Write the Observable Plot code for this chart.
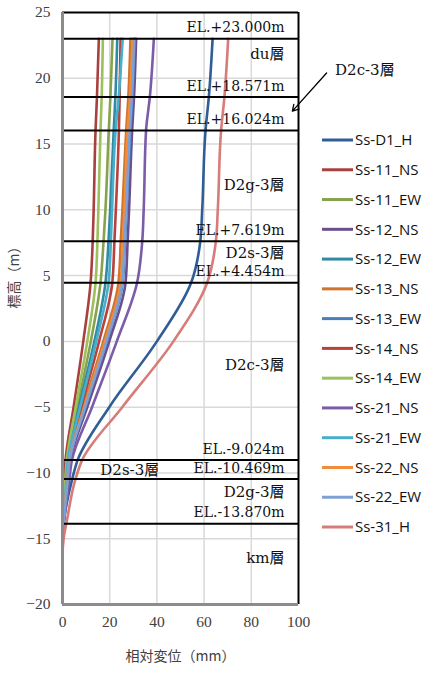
<!DOCTYPE html>
<html><head><meta charset="utf-8">
<script src="https://cdn.jsdelivr.net/npm/d3@7"></script>
<script src="https://cdn.jsdelivr.net/npm/@observablehq/plot@0.6"></script>
<style>
body{margin:0;background:#fff;}
#chart{width:425px;height:673px;position:relative;}
#chart svg{display:block;background:#fff;}
</style>
</head><body><div id="chart"></div>
<script>
// Elevations (m) at which displacements are read
const elevations = [23, 18.571, 16.024, 10, 7.619, 4.454, 0, -5, -9.024, -10.469, -13.870, -14.6, -16];

// Relative displacement (mm) per series at each elevation
const ssD1H  = [63.6, 62.0, 60.6, 59.2, 58.4, 54.5, 40.0, 19.8, 6.4, 4.1, 0.4, 0, null];
const ss11NS = [15.4, 14.6, 14.0, 13.2, 12.8, 11.9, 8.8, 4.7, 1.3, 0.9, 0.2, 0, null];
const ss11EW = [21.2, 20.3, 19.6, 18.2, 17.4, 16.1, 12.0, 6.3, 2.0, 1.4, 0.3, 0, null];
const ss12NS = [31.2, 30.3, 29.5, 28.2, 27.6, 26.7, 19.8, 10.5, 3.3, 2.4, 0.4, 0, null];
const ss12EW = [23.2, 22.4, 21.7, 20.2, 19.5, 18.2, 13.5, 7.0, 2.2, 1.6, 0.3, 0, null];
const ss13NS = [28.8, 27.9, 27.0, 25.4, 24.7, 23.7, 17.3, 8.8, 2.7, 2.0, 0.3, 0, null];
const ss13EW = [30.6, 29.6, 28.8, 27.2, 26.5, 25.5, 18.8, 9.7, 3.0, 2.2, 0.4, 0, null];
const ss14NS = [24.6, 24.2, 23.9, 22.6, 22.0, 21.1, 15.5, 8.0, 2.5, 1.8, 0.3, 0, null];
const ss14EW = [17.1, 16.6, 16.1, 15.2, 14.8, 14.0, 10.5, 5.6, 1.8, 1.2, 0.2, 0, null];
const ss21NS = [38.7, 37.0, 35.4, 34.4, 33.8, 31.6, 23.0, 12.5, 4.0, 2.9, 0.5, 0, null];
const ss21EW = [25.5, 23.8, 22.5, 21.0, 20.5, 19.5, 14.3, 7.5, 2.3, 1.7, 0.3, 0, null];
const ss22NS = [29.7, 28.6, 27.6, 26.2, 25.6, 24.6, 18.0, 9.2, 2.9, 2.1, 0.3, 0, null];
const ss22EW = [30.4, 29.4, 28.5, 27.0, 26.3, 25.3, 18.6, 9.6, 3.0, 2.2, 0.4, 0, null];
const ss31H  = [70.2, 68.6, 67.2, 65.8, 65.0, 61.3, 47.0, 25.3, 8.3, 5.5, 1.6, 0.8, 0];

const seriesNames = ["Ss-D1_H","Ss-11_NS","Ss-11_EW","Ss-12_NS","Ss-12_EW","Ss-13_NS","Ss-13_EW",
  "Ss-14_NS","Ss-14_EW","Ss-21_NS","Ss-21_EW","Ss-22_NS","Ss-22_EW","Ss-31_H"];
const seriesValues = [ssD1H, ss11NS, ss11EW, ss12NS, ss12EW, ss13NS, ss13EW, ss14NS, ss14EW, ss21NS, ss21EW, ss22NS, ss22EW, ss31H];
const seriesColors = ["#2F5D96","#A8403F","#86A24E","#6A4F8F","#2F8AA2","#D0732E","#4A7DBA",
  "#B8403D","#9CC05B","#7B5CA8","#47AFCB","#F38B38","#7FA0D2","#D67C79"];

// Layer boundaries
const boundaries = [23, 18.571, 16.024, 7.619, 4.454, -9.024, -10.469, -13.870];
const boundaryLabels = ["EL.+23.000m","EL.+18.571m","EL.+16.024m","EL.+7.619m","EL.+4.454m","EL.-9.024m","EL.-10.469m","EL.-13.870m"];

// Layer names (right side) and their label elevations
const layerNames = ["du層","D2g-3層","D2s-3層","D2c-3層","D2g-3層","km層"];
const layerElev  = [21.8, 11.9, 6.7, -1.8, -11.5, -16.5];
// Layer name placed inside the thin D2s-3 layer (left of its EL label)
const thinLayerName = ["D2s-3層"];
const thinLayerPos = [{x: 28.5, y: -9.8}];
// Callout for the thin D2c-3 layer between 18.571 and 16.024
const callout = [{x1: 111.9, y1: 20.4, x2: 97.4, y2: 17.5, label: "D2c-3層", tx: 115.5, ty: 20.6}];

const xTicks = [0, 20, 40, 60, 80, 100];
const yTicks = [25, 20, 15, 10, 5, 0, -5, -10, -15, -20];

const rows = [];
seriesNames.forEach((s, i) => {
  seriesValues[i].forEach((v, j) => {
    if (v !== null) rows.push({series: s, elev: elevations[j], disp: v});
  });
});

const tickFont = "'Liberation Serif','Noto Sans CJK JP',serif";
const labelFont = "'DejaVu Serif','Noto Sans CJK JP',serif";

const plot = Plot.plot({
  width: 425,
  height: 673,
  marginLeft: 62,
  marginRight: 127,
  marginTop: 12,
  marginBottom: 69,
  style: {fontFamily: tickFont, fontSize: "15px", color: "#404040", background: "#fff"},
  x: {domain: [0, 100], label: null},
  y: {domain: [-20, 25], label: null},
  color: {domain: seriesNames, range: seriesColors},
  marks: [
    Plot.gridX(xTicks.filter(d => d > 0 && d < 100), {stroke: "#d9d9d9", strokeOpacity: 1, strokeWidth: 1.5}),
    Plot.gridY(yTicks.filter(d => d > -20 && d < 25), {stroke: "#d9d9d9", strokeOpacity: 1, strokeWidth: 1.5}),
    Plot.axisX({ticks: xTicks, tickSize: 0, tickPadding: 11, fontSize: 15.5, tickFormat: d => String(d)}),
    Plot.axisY({ticks: yTicks, tickSize: 0, tickPadding: 12, fontSize: 15.5}),
    Plot.line(rows, {x: "disp", y: "elev", z: "series", stroke: "series", strokeWidth: 2.6, curve: "monotone-y"}),
    Plot.ruleY(boundaries, {stroke: "#000", strokeWidth: 2}),
    Plot.ruleY([25], {stroke: "#000", strokeWidth: 2}),
    Plot.ruleX([100], {stroke: "#000", strokeWidth: 2}),
    Plot.ruleX([0], {stroke: "#8c8c8c", strokeWidth: 3}),
    Plot.ruleY([-20], {stroke: "#8c8c8c", strokeWidth: 3}),
    Plot.text(boundaries, {y: d => d, text: (d, i) => boundaryLabels[i], frameAnchor: "right", dx: -14, dy: -11,
      textAnchor: "end", fill: "#111", fontSize: 14, fontFamily: labelFont}),
    Plot.text(layerNames, {y: (d, i) => layerElev[i], text: d => d, frameAnchor: "right", dx: -14,
      textAnchor: "end", fill: "#111", fontSize: 15, fontFamily: labelFont}),
    Plot.text(thinLayerName, {x: (d, i) => thinLayerPos[i].x, y: (d, i) => thinLayerPos[i].y, text: d => d,
      fill: "#111", fontSize: 15, fontFamily: labelFont}),
    Plot.arrow(callout, {x1: "x1", y1: "y1", x2: "x2", y2: "y2", stroke: "#000", strokeWidth: 1.3, headLength: 8}),
    Plot.text(callout, {x: "tx", y: "ty", text: "label", textAnchor: "start", fill: "#111", fontSize: 15, fontFamily: labelFont}),
    Plot.text(["標高（m）"], {frameAnchor: "left", dx: -48, rotate: -90, fontSize: 14,
      fontFamily: "'Noto Sans CJK JP',sans-serif", fill: "#404040"}),
    Plot.text(["相対変位（mm）"], {frameAnchor: "bottom", dy: 56, fontSize: 14,
      fontFamily: "'Noto Sans CJK JP',sans-serif", fill: "#404040"})
  ]
});

// Legend on the right side
const svg = d3.select(plot);
const lg = svg.append("g").attr("font-family", "'Open Sans','Noto Sans',sans-serif")
  .attr("font-size", 15).attr("text-anchor", "start");
seriesNames.forEach((s, i) => {
  const yy = 140 + i * 29.77;
  lg.append("line").attr("x1", 322).attr("x2", 353).attr("y1", yy).attr("y2", yy)
    .attr("stroke", seriesColors[i]).attr("stroke-width", 3);
  lg.append("text").attr("x", 355).attr("y", yy).attr("dy", "0.35em").attr("fill", "#111")
    .attr("text-anchor", "start").text(s);
});

document.getElementById("chart").appendChild(plot);
</script>
</body></html>
